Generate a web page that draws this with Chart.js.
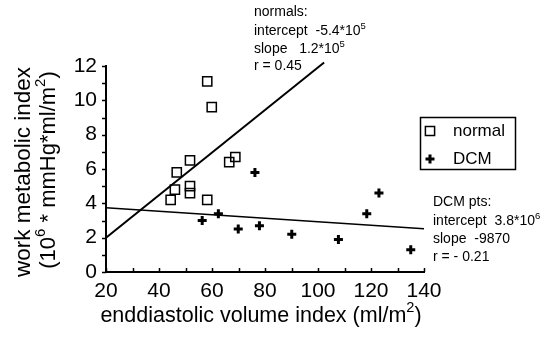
<!DOCTYPE html>
<html>
<head>
<meta charset="utf-8">
<script src="https://cdn.jsdelivr.net/npm/chart.js@4/dist/chart.umd.min.js"></script>
<style>
  html, body { margin: 0; padding: 0; background: #fff; }
</style>
</head>
<body>
<canvas id="wmiChart" width="547" height="338"></canvas>
<script>
// data
const normalEdvi = [58.2, 59.9, 51.7, 68.8, 66.5, 46.7, 51.7, 51.7, 46.0, 44.4, 58.2];
const normalWmi  = [11.1, 9.6, 6.5, 6.7, 6.4, 5.8, 5.0, 4.6, 4.8, 4.2, 4.2];
const dcmEdvi = [76.2, 56.3, 62.4, 69.9, 77.9, 90.1, 107.7, 118.4, 123.0, 135.0];
const dcmWmi  = [5.8, 3.0, 3.4, 2.5, 2.7, 2.2, 1.9, 3.4, 4.6, 1.3];

// fitted lines, end points as drawn
const normalFitX = [20, 102.3];
const normalFitY = [2.0, 12.2];
const dcmFitX = [20, 140];
const dcmFitY = [3.75, 2.52];

const xTicks = [20, 40, 60, 80, 100, 120, 140];
const yTicks = [0, 2, 4, 6, 8, 10, 12];
const xMinor = [20, 30, 40, 50, 60, 70, 80, 90, 100, 110, 120, 130, 140];
const yMinor = [0, 1, 2, 3, 4, 5, 6, 7, 8, 9, 10, 11, 12];

const legendLabels = ['normal', 'DCM'];
const normalNote = [
  [['normals:']],
  [['intercept  -5.4*10'], ['5', true]],
  [['slope   1.2*10'], ['5', true]],
  [['r = 0.45']]
];
const dcmNote = [
  [['DCM pts:']],
  [['intercept  3.8*10'], ['6', true]],
  [['slope  -9870']],
  [['r = - 0.21']]
];
const xTitle = [['enddiastolic volume index (ml/m'], ['2', true], [')']];
const yTitle1 = [['work metabolic index']];
const yTitle2 = [['(10'], ['6', true], [' * mmHg*ml/m'], ['2', true], [')']];

const FONT = '"Liberation Sans", Arial, Helvetica, sans-serif';
Chart.defaults.font.family = FONT;
Chart.defaults.color = '#000';

const toPts = (xs, ys) => xs.map((x, i) => ({ x: x, y: ys[i] }));

function drawRich(ctx, parts, x, y, size, align) {
  const widths = parts.map(([t, sup]) => {
    ctx.font = (sup ? size * 0.68 : size) + 'px ' + FONT;
    return ctx.measureText(t).width;
  });
  const total = widths.reduce((a, b) => a + b, 0);
  let cx = align === 'center' ? x - total / 2 : x;
  ctx.textAlign = 'left';
  ctx.textBaseline = 'middle';
  parts.forEach(([t, sup], i) => {
    ctx.font = (sup ? size * 0.68 : size) + 'px ' + FONT;
    ctx.fillText(t, cx, sup ? y - size * 0.36 : y);
    cx += widths[i];
  });
}

const decorations = {
  id: 'decorations',
  afterDraw(chart) {
    const ctx = chart.ctx;
    const xs = chart.scales.x, ys = chart.scales.y;
    ctx.save();
    ctx.strokeStyle = '#000';
    ctx.fillStyle = '#000';
    ctx.lineWidth = 1.5;

    // tick marks: y outward, x inward
    ctx.beginPath();
    yMinor.forEach(v => {
      const py = Math.round(ys.getPixelForValue(v)) + 0.5;
      ctx.moveTo(xs.left - 4, py);
      ctx.lineTo(xs.left, py);
    });
    xMinor.forEach(v => {
      const px = Math.round(xs.getPixelForValue(v)) + 0.5;
      ctx.moveTo(px, ys.bottom);
      ctx.lineTo(px, ys.bottom - 4);
    });
    ctx.stroke();

    // legend box
    ctx.lineWidth = 1.5;
    ctx.strokeRect(420.5, 117.5, 95, 52);
    ctx.fillStyle = 'rgba(0,0,0,0)';
    Chart.helpers.drawPoint(ctx, { pointStyle: 'rect', radius: 6.5, borderWidth: 1.5 }, 430, 131);
    ctx.fillStyle = '#000';
    ctx.lineWidth = 3;
    Chart.helpers.drawPoint(ctx, { pointStyle: 'cross', radius: 4.5, borderWidth: 3 }, 430, 159);
    drawRich(ctx, [[legendLabels[0]]], 453, 131, 17, 'left');
    drawRich(ctx, [[legendLabels[1]]], 453, 159, 17, 'left');

    // fit notes
    [12, 31, 49, 66].forEach((y, i) => drawRich(ctx, normalNote[i], 254, y, 14, 'left'));
    [202, 221, 239.5, 257].forEach((y, i) => drawRich(ctx, dcmNote[i], 433, y, 14, 'left'));

    // axis titles
    drawRich(ctx, xTitle, 261, 316, 21.5, 'center');
    ctx.translate(24, 172);
    ctx.rotate(-Math.PI / 2);
    drawRich(ctx, yTitle1, 0, 0, 22.5, 'center');
    drawRich(ctx, yTitle2, 2, 25, 22, 'center');
    ctx.restore();
  }
};

new Chart(document.getElementById('wmiChart'), {
  type: 'scatter',
  data: {
    datasets: [
      {
        label: 'normal',
        data: toPts(normalEdvi, normalWmi),
        pointStyle: 'rect',
        pointRadius: 6.5,
        borderColor: '#000',
        backgroundColor: 'rgba(0,0,0,0)',
        pointBorderWidth: 1.5
      },
      {
        label: 'DCM',
        data: toPts(dcmEdvi, dcmWmi),
        pointStyle: 'cross',
        pointRadius: 4.5,
        borderColor: '#000',
        pointBorderWidth: 3
      },
      {
        label: 'normal fit',
        data: toPts(normalFitX, normalFitY),
        showLine: true,
        pointRadius: 0,
        borderColor: '#000',
        borderWidth: 2,
        clip: false
      },
      {
        label: 'DCM fit',
        data: toPts(dcmFitX, dcmFitY),
        showLine: true,
        pointRadius: 0,
        borderColor: '#000',
        borderWidth: 1.5
      }
    ]
  },
  options: {
    responsive: false,
    animation: false,
    devicePixelRatio: 1,
    layout: { padding: { left: 0, right: 123, top: 66, bottom: 0 } },
    plugins: {
      legend: { display: false },
      tooltip: { enabled: false }
    },
    scales: {
      x: {
        type: 'linear',
        min: 20,
        max: 140,
        afterFit: s => { s.height = 66; },
        afterBuildTicks: s => { s.ticks = xTicks.map(v => ({ value: v })); },
        grid: { display: false, drawTicks: false },
        border: { display: true, color: '#000', width: 2 },
        ticks: { font: { size: 21 }, padding: 7, maxRotation: 0 }
      },
      y: {
        type: 'linear',
        min: 0,
        max: 12,
        afterFit: s => { s.width = 106; },
        afterBuildTicks: s => { s.ticks = yTicks.map(v => ({ value: v })); },
        grid: { display: false, drawTicks: false },
        border: { display: true, color: '#000', width: 2 },
        ticks: { font: { size: 21 }, padding: 9 }
      }
    }
  },
  plugins: [decorations]
});
</script>
</body>
</html>
